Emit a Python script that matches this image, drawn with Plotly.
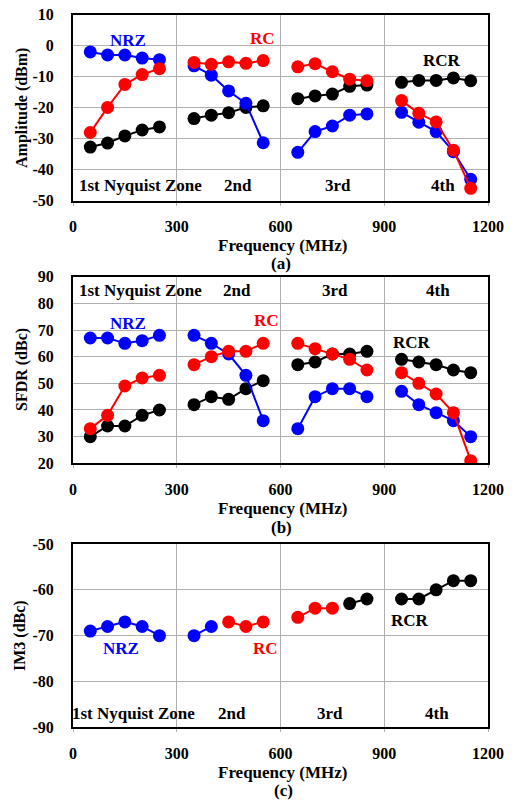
import plotly.graph_objects as go

# ---------------- data ----------------
zone_freqs = [[50, 100, 150, 200, 250], [350, 400, 450, 500, 550],
              [650, 700, 750, 800, 850], [950, 1000, 1050, 1100, 1150]]

# Panel (a) Amplitude (dBm), per zone
amp_nrz = [[-2, -3, -3, -4, -4.5], [-6.5, -9.5, -14.6, -18.6, -31.3],
           [-34.4, -27.7, -25.9, -22.4, -22.0], [-21.5, -24.7, -27.7, -34.2, -43.1]]
amp_rc = [[-28, -19.9, -12.5, -9.3, -7.4], [-5.4, -6.0, -5.2, -5.7, -4.8],
          [-6.8, -5.8, -8.4, -10.8, -11.3], [-17.7, -21.8, -24.6, -33.7, -46]]
amp_rcr = [[-32.7, -31.4, -29.1, -27.2, -26.2], [-23.5, -22.4, -21.6, -19.9, -19.4],
           [-17.1, -16.2, -15.6, -13.1, -12.7], [-11.8, -11.2, -11.2, -10.4, -11.3]]

# Panel (b) SFDR (dBc)
sfdr_nrz = [[67, 67, 65, 66, 68], [68, 65, 61, 53, 36],
            [33, 45, 48, 48, 45], [47, 42, 39, 36, 30]]
sfdr_rc = [[33, 38, 49, 52, 53], [57, 60, 62, 62, 65],
           [65, 63, 61, 59, 55], [54, 50, 46, 39, 21]]
sfdr_rcr = [[30, 34, 34, 38, 40], [42, 45, 44, 48, 51],
            [57, 58, 61, 61, 62], [59, 58, 57, 55, 54]]

# Panel (c) IM3 (dBc): each mode only over some frequencies
im3_nrz_f = [[50, 100, 150, 200, 250], [350, 400]]
im3_nrz = [[-69, -68, -67, -68, -70], [-70, -68]]
im3_rc_f = [[450, 500, 550], [650, 700, 750]]
im3_rc = [[-67, -68, -67], [-66, -64, -64]]
im3_rcr_f = [[800, 850], [950, 1000, 1050, 1100, 1150]]
im3_rcr = [[-63, -62], [-62, -62, -60, -58, -58]]

x_ticks = [0, 300, 600, 900, 1200]
y_ticks_a = [10, 0, -10, -20, -30, -40, -50]
y_ticks_b = [90, 80, 70, 60, 50, 40, 30, 20]
y_ticks_c = [-50, -60, -70, -80, -90]
zone_names = ["1st Nyquist Zone", "2nd", "3rd", "4th"]

BLUE = "#0000FF"
RED = "#FF0000"
BLACK = "#000000"
FONT = "Liberation Serif"

fig = go.Figure()

def add_series(xs_list, ys_list, color, xa, ya):
    for xs, ys in zip(xs_list, ys_list):
        fig.add_trace(go.Scatter(
            x=xs, y=ys, mode="lines+markers",
            line=dict(color=color, width=2),
            marker=dict(color=color, size=13),
            xaxis=xa, yaxis=ya, showlegend=False, hoverinfo="skip"))

# panel a
add_series(zone_freqs, amp_rcr, BLACK, "x", "y")
add_series(zone_freqs, amp_nrz, BLUE, "x", "y")
add_series(zone_freqs, amp_rc, RED, "x", "y")
# panel b
add_series(zone_freqs, sfdr_rcr, BLACK, "x2", "y2")
add_series(zone_freqs, sfdr_nrz, BLUE, "x2", "y2")
add_series(zone_freqs, sfdr_rc, RED, "x2", "y2")
# panel c
add_series(im3_nrz_f, im3_nrz, BLUE, "x3", "y3")
add_series(im3_rc_f, im3_rc, RED, "x3", "y3")
add_series(im3_rcr_f, im3_rcr, BLACK, "x3", "y3")

W, H = 515, 801
x0, x1 = 73, 488
panels = [  # (top px, bottom px, yrange, yticks)
    (14.7, 200.7, [-50, 10], y_ticks_a),
    (276.7, 463.3, [20, 90], y_ticks_b),
    (544, 727.3, [-90, -50], y_ticks_c),
]

tickfont = dict(family=FONT, size=16, color="black", weight="bold")
layout = dict(width=W, height=H, margin=dict(l=0, r=0, t=0, b=0),
              paper_bgcolor="white", plot_bgcolor="white",
              font=dict(family=FONT, color="black"))
for i, (top, bot, yr, yt) in enumerate(panels):
    sfx = "" if i == 0 else str(i + 1)
    layout["xaxis" + sfx] = dict(
        domain=[x0 / W, x1 / W], range=[0, 1200], tickvals=x_ticks,
        showgrid=True, gridcolor="#B0B0B0", gridwidth=1,
        showline=True, linecolor="black", linewidth=2, mirror=True,
        ticks="outside", ticklen=3, tickcolor="#B0B0B0", automargin=False,
        tickfont=tickfont, ticklabelstandoff=7, zeroline=False,
        anchor="y" + sfx)
    layout["yaxis" + sfx] = dict(
        domain=[1 - bot / H, 1 - top / H], range=yr,
        tickvals=yt, ticktext=[str(v) for v in yt],
        showgrid=True, gridcolor="#B0B0B0", gridwidth=1,
        showline=True, linecolor="black", linewidth=2, mirror=True,
        ticks="", tickfont=tickfont, ticklabelstandoff=14, zeroline=False,
        automargin=False, anchor="x" + sfx)
fig.update_layout(**layout)

def ann(x, y, text, color="black", size=17, angle=0):
    fig.add_annotation(x=x / W, y=1 - y / H, xref="paper", yref="paper",
                       text="<b>" + text + "</b>", showarrow=False,
                       font=dict(family=FONT, size=size, color=color),
                       textangle=angle, xanchor="center", yanchor="middle")

# axis titles
ann(22, 108, "Amplitude (dBm)", size=16, angle=-90)
ann(22, 370, "SFDR (dBc)", size=16, angle=-90)
ann(20, 636, "IM3 (dBc)", size=16, angle=-90)
ann(283, 246, "Frequency (MHz)")
ann(283, 508, "Frequency (MHz)")
ann(283, 772, "Frequency (MHz)")
ann(281, 264, "(a)")
ann(281, 527, "(b)")
ann(283, 790, "(c)")

# panel a labels
ann(128, 40, "NRZ", BLUE)
ann(262, 38, "RC", RED)
ann(442, 61, "RCR")
for name, xc in zip(zone_names, [140, 238, 338, 443]):
    ann(xc, 185, name)
# panel b labels
for name, xc in zip(zone_names, [140, 237, 335, 438]):
    ann(xc, 290, name)
ann(128, 323, "NRZ", BLUE)
ann(266, 320, "RC", RED)
ann(412, 343, "RCR")
# panel c labels
for name, xc in zip(zone_names, [133, 232, 330, 437]):
    ann(xc, 713, name)
ann(121, 648, "NRZ", BLUE)
ann(265, 648, "RC", RED)
ann(410, 620, "RCR")

fig.write_html("out.html", config={"displayModeBar": False},
               post_script="document.body.style.margin='0px';"
                           "document.body.style.overflow='hidden';")
